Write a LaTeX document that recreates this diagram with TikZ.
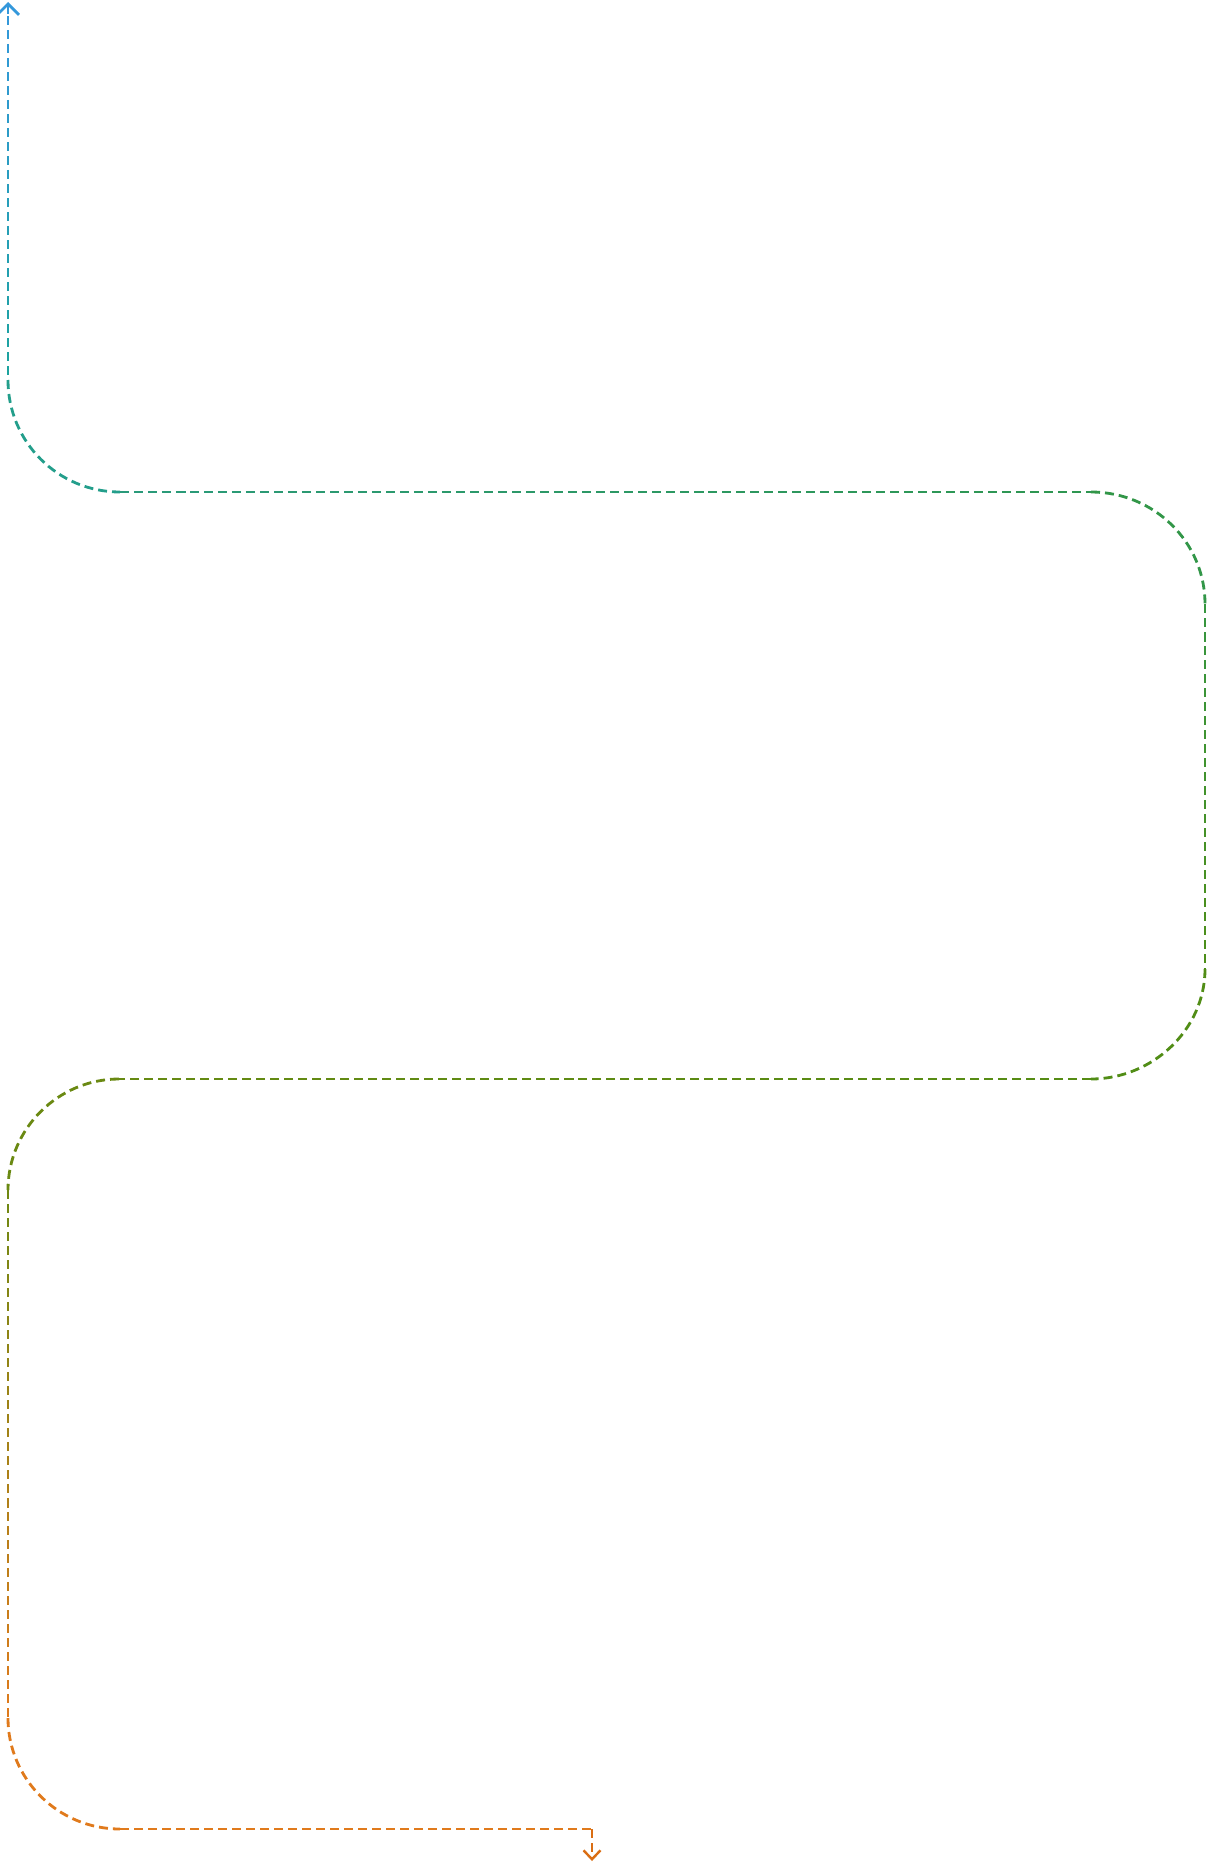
\documentclass[tikz,border=0pt]{standalone}
\usetikzlibrary{arrows.meta,calc}
\definecolor{cA}{HTML}{3498DB}
\definecolor{cB}{HTML}{1BA39C}
\definecolor{cC}{HTML}{2A9A7A}
\definecolor{cD}{HTML}{2E9650}
\definecolor{cE}{HTML}{369640}
\definecolor{cF}{HTML}{4E8E18}
\definecolor{cG}{HTML}{558C14}
\definecolor{cH}{HTML}{668A12}
\definecolor{cI}{HTML}{6E8812}
\definecolor{cJ}{HTML}{E07A1C}
\definecolor{cK}{HTML}{E07A1C}
\definecolor{cL}{HTML}{DA6E14}
\tikzset{flow/.style={line width=2.8pt, dash pattern=on 9pt off 5pt}}
\newcommand\gradline[6]{%
  \foreach \i in {1,...,#5}{%
    \pgfmathsetmacro\ta{(\i-1)/#5}%
    \pgfmathsetmacro\tb{\i/#5}%
    \pgfmathtruncatemacro\mixv{100*(\i-0.5)/#5}%
    \pgfmathsetmacro\ph{mod((\i-1)*(#6/#5),14)}%
    \draw[flow, dash phase=\ph pt, color=#4!\mixv!#3] ($(#1)!\ta!(#2)$) -- ($(#1)!\tb!(#2)$);
  }}
\begin{document}
\begin{tikzpicture}[x=1pt,y=-1pt]
\useasboundingbox (0,0) rectangle (1210,1863);
% named points of the route
\coordinate (top) at (8,2);
\coordinate (t1) at (8,16);
\coordinate (a1s) at (8,380);
\coordinate (a1e) at (120,492);
\coordinate (h1e) at (1091,492);
\coordinate (a2e) at (1205,604);
\coordinate (v2e) at (1205,969);
\coordinate (a3e) at (1091,1079);
\coordinate (h2e) at (119,1079);
\coordinate (a4e) at (8,1190);
\coordinate (v3e) at (8,1718);
\coordinate (a5e) at (120,1829);
\coordinate (h3e) at (592,1829);
\coordinate (bot) at (592,1861);
% top arrow
\draw[flow, color=cA, {Straight Barb[length=11pt,width=22pt,line width=2.8pt]}-] (top) -- (t1);
\gradline{t1}{a1s}{cA}{cB}{24}{364}
% arc 1
\draw[flow, color=cB!50!cC] (a1s) .. controls (8,442) and (58,492) .. (a1e);
\gradline{a1e}{h1e}{cC}{cD}{30}{971}
% arc 2
\draw[flow, color=cD!50!cE] (h1e) .. controls (1154,492) and (1205,542) .. (a2e);
\gradline{a2e}{v2e}{cE}{cF}{20}{365}
% arc 3
\draw[flow, color=cF!50!cG] (v2e) .. controls (1205,1030) and (1152,1079) .. (a3e);
\gradline{a3e}{h2e}{cG}{cH}{30}{972}
% arc 4
\draw[flow, color=cH!50!cI] (h2e) .. controls (58,1079) and (8,1129) .. (a4e);
\gradline{a4e}{v3e}{cI}{cJ}{30}{528}
% arc 5
\draw[flow, color=cJ] (v3e) .. controls (8,1779) and (58,1829) .. (a5e);
\draw[flow, color=cK] (a5e) -- (h3e);
\draw[flow, color=cL, -{Straight Barb[length=9pt,width=17pt,line width=2.4pt]}] (h3e) -- (bot);
\end{tikzpicture}
\end{document}
